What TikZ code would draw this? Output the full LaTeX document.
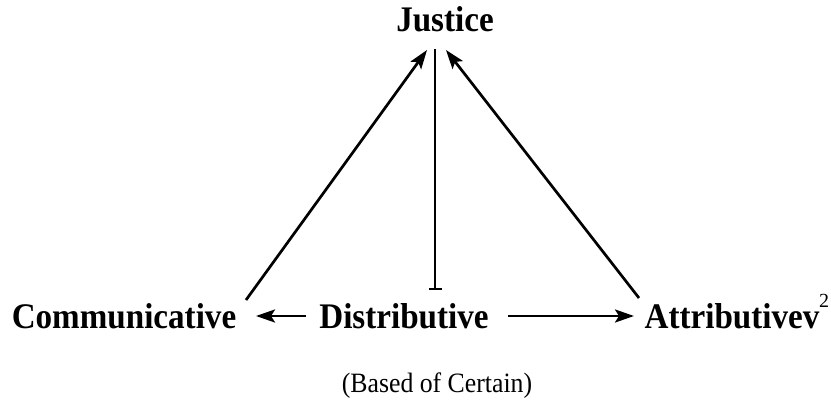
\documentclass[tikz,border=0pt]{standalone}
\usepackage{fontspec}
\setmainfont{Liberation Serif}
\usetikzlibrary{arrows.meta}
\newcommand{\narrow}[1]{\scalebox{0.92}[1]{#1}}
\begin{document}
\begin{tikzpicture}[x=1pt,y=-1pt,
  lbl/.style={font=\fontsize{36}{40}\selectfont\bfseries, inner sep=0pt, anchor=base},
  sub/.style={font=\fontsize{28}{32}\selectfont, inner sep=0pt, anchor=base},
  conn/.style={line width=2.7pt, -{Stealth[length=19pt,width=13pt,inset=4pt]}},
  barconn/.style={line width=2.4pt, -{Bar[width=13pt,line width=2.4pt]}}]
\useasboundingbox (0,0) rectangle (831,401);
\node[lbl] (jus) at (445,32) {\narrow{Justice}};
\node[lbl] (com) at (124,328) {\narrow{Communicative}};
\node[lbl] (dis) at (404,328) {\narrow{Distributive}};
\node[lbl] (att) at (732,328) {\narrow{Attributivev}};
\node[font=\fontsize{20}{22}\selectfont, inner sep=0pt, anchor=base] (two) at (824,307) {2};
\node[sub] (based) at (437,392) {\narrow{(Based of Certain)}};
% connector end points
\coordinate (comtop) at (246,300);
\coordinate (jusL) at (427,50);
\coordinate (atttop) at (639,298);
\coordinate (jusR) at (446,50);
\coordinate (jusM) at (435,49);
\coordinate (disM) at (435,290);
\coordinate (disL) at (306,316);
\coordinate (comR) at (256,316);
\coordinate (disR) at (508,316);
\coordinate (attL) at (634,316);
\draw[conn] (comtop) -- (jusL);
\draw[conn] (atttop) -- (jusR);
\draw[barconn] (jusM) -- (disM);
\draw[conn] (disL) -- (comR);
\draw[conn] (disR) -- (attL);
\end{tikzpicture}
\end{document}
